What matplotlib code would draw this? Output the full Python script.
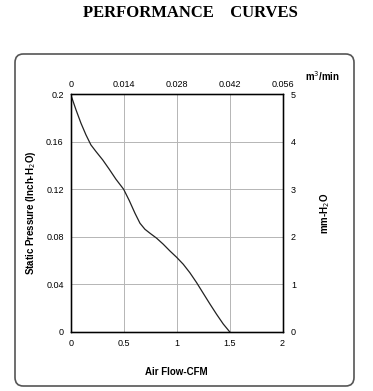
import numpy as np
from matplotlib import pyplot as plt
from matplotlib.patches import FancyBboxPatch

# curve (CFM, inch-H2O)
flow_cfm = [0.0, 0.05, 0.097, 0.144, 0.191, 0.239, 0.302, 0.364, 0.427, 0.5,
            0.553, 0.607, 0.654, 0.701, 0.748, 0.811, 0.874, 0.937, 1.0, 1.063,
            1.125, 1.189, 1.251, 1.314, 1.377, 1.44, 1.5]
pressure_in = [0.2, 0.187, 0.1757, 0.1659, 0.1574, 0.1518, 0.1448, 0.1369, 0.1285, 0.12,
               0.1105, 0.0998, 0.0914, 0.0863, 0.083, 0.0788, 0.0737, 0.068, 0.0627, 0.0568,
               0.0497, 0.0413, 0.0324, 0.0234, 0.0147, 0.0065, 0.0]

x_ticks = [0, 0.5, 1, 1.5, 2]
x_labels = ["0", "0.5", "1", "1.5", "2"]
y_ticks = [0, 0.04, 0.08, 0.12, 0.16, 0.2]
y_labels = ["0", "0.04", "0.08", "0.12", "0.16", "0.2"]
top_ticks = [0, 0.014, 0.028, 0.042, 0.056]
top_labels = ["0", "0.014", "0.028", "0.042", "0.056"]
right_ticks = [0, 1, 2, 3, 4, 5]
right_labels = ["0", "1", "2", "3", "4", "5"]

plt.rcParams['font.family'] = ['Liberation Sans', 'DejaVu Sans']

fig = plt.figure(figsize=(3.73, 3.91), dpi=100)

# rounded frame around the chart
box = FancyBboxPatch((15 / 373, 1 - 386 / 391), (354 - 15) / 373, (386 - 54) / 391,
                     boxstyle="round,pad=0,rounding_size=0.022",
                     transform=fig.transFigure, fill=False,
                     edgecolor="#555555", linewidth=1.2)
fig.patches.append(box)

fig.text(0.51, 1 - 13 / 391, "PERFORMANCE    CURVES", ha="center", va="center",
         family="Liberation Serif", fontweight="bold", fontsize=12)

ax = fig.add_axes([0.1895, 0.1517, 0.568, 0.607])
ax.plot(flow_cfm, pressure_in, color="#222222", linewidth=0.9)
ax.set_xlim(0, 2)
ax.set_ylim(0, 0.2)
ax.set_xticks(x_ticks, x_labels)
ax.set_yticks(y_ticks, y_labels)
ax.grid(True, color="#b5b5b5", linewidth=0.7)
ax.tick_params(length=0, labelsize=6.5, pad=5)
for s in ax.spines.values():
    s.set_linewidth(1.0)
ax.set_xlabel("Air Flow-CFM", fontweight="bold", fontsize=7, labelpad=14)
ax.set_ylabel("Static Pressure (Inch-H$_2$O)", fontweight="bold", fontsize=7, labelpad=6)

top = ax.twiny()
top.set_xlim(0, 0.056)
top.set_xticks(top_ticks, top_labels)
top.tick_params(length=0, labelsize=6.5, pad=4)

right = ax.twinx()
right.set_ylim(0, 5)
right.set_yticks(right_ticks, right_labels)
right.tick_params(length=0, labelsize=6.5, pad=6)
right.set_ylabel("mm-H$_2$O", fontweight="bold", fontsize=7, labelpad=16)

fig.text(322 / 373, 1 - 76 / 391, "m$^3$/min", ha="center", va="center",
         fontweight="bold", fontsize=7)

fig.savefig("out.png", dpi=100)
